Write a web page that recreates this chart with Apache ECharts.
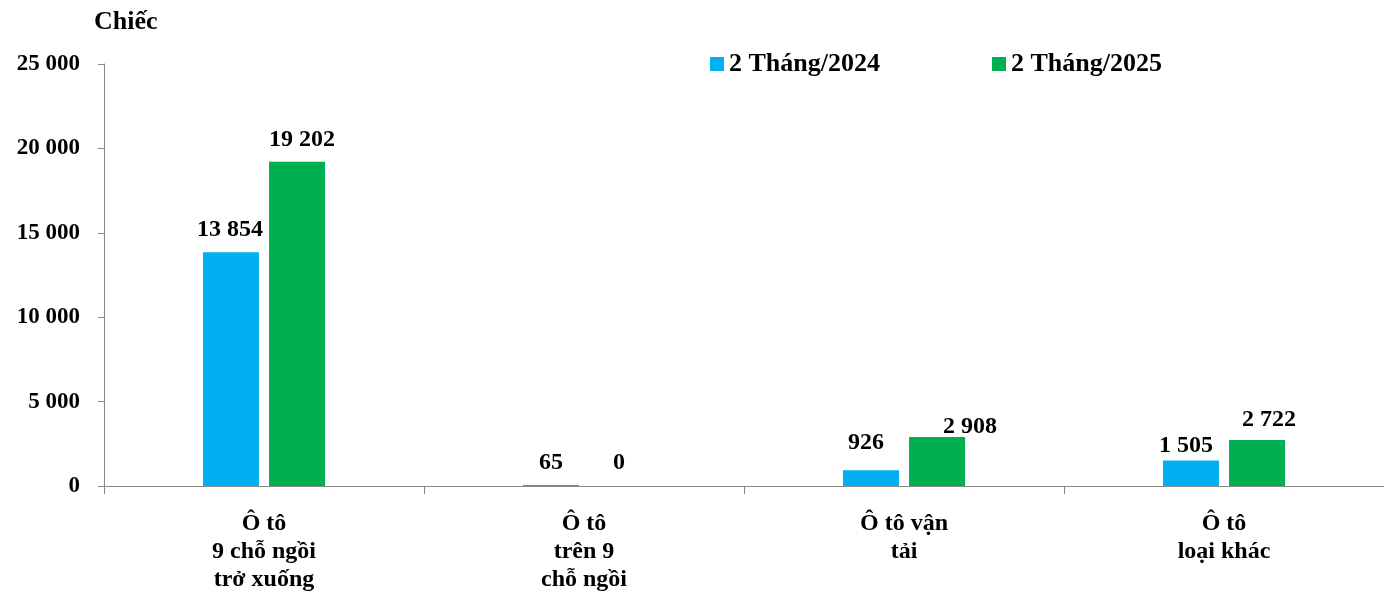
<!DOCTYPE html>
<html><head><meta charset="utf-8">
<script src="https://cdn.jsdelivr.net/npm/echarts@6/dist/echarts.min.js"></script>
<style>html,body{margin:0;padding:0;background:#fff}#c{width:1384px;height:607px}</style>
</head><body><div id="c"></div>
<script>
const categories = ["Ô tô\n9 chỗ ngồi\ntrở xuống", "Ô tô\ntrên 9\nchỗ ngồi", "Ô tô vận\ntải", "Ô tô\nloại khác"];
const seriesNames = ["2 Tháng/2024", "2 Tháng/2025"];
const values2024 = [13854, 65, 926, 1505];
const values2025 = [19202, 0, 2908, 2722];
const yTicks = [0, 5000, 10000, 15000, 20000, 25000];

// label nudges (style only)
const offs2024 = [[-1,-5],[0,-5],[-5,-11],[-5,2]];
const offs2025 = [[5,-5],[2,-6],[33,7],[12,-3]];

const FONT = '"Liberation Serif", "Times New Roman", serif';
const fmt = v => String(v).replace(/\B(?=(\d{3})+(?!\d))/g, ' ');

function mk(vals, offs) {
  return vals.map((v, i) => ({ value: v, label: { offset: offs[i] } }));
}
const chart = echarts.init(document.getElementById('c'), null, {renderer: 'canvas'});
chart.setOption({
  animation: false,
  textStyle: { fontFamily: FONT },
  title: { text: 'Chiếc', left: 89, top: 4, textStyle: { fontFamily: FONT, fontWeight: 'bold', fontSize: 26, color: '#000' } },
  legend: {
    left: 705, top: 46, itemWidth: 14, itemHeight: 14, itemGap: 112,
    icon: 'rect',
    textStyle: { fontFamily: FONT, fontWeight: 'bold', fontSize: 26, color: '#000' },
    data: seriesNames
  },
  grid: { left: 104, right: 0, top: 64, bottom: 121, containLabel: false },
  xAxis: {
    type: 'category', data: categories,
    axisLine: { lineStyle: { color: '#888', width: 1 } },
    axisTick: { show: true, length: 8, lineStyle: { color: '#888' } },
    axisLabel: { color: '#000', fontFamily: FONT, fontWeight: 'bold', fontSize: 24, lineHeight: 28, margin: 24, interval: 0 }
  },
  yAxis: {
    type: 'value', min: yTicks[0], max: yTicks[yTicks.length-1], interval: 5000,
    axisLine: { show: true, lineStyle: { color: '#888', width: 1 } },
    axisTick: { show: true, length: 6, lineStyle: { color: '#888' } },
    splitLine: { show: false },
    axisLabel: { color: '#000', fontFamily: FONT, fontWeight: 'bold', fontSize: 23, margin: 24, formatter: fmt }
  },
  series: [
    { name: seriesNames[0], type: 'bar', barWidth: 56, barGap: '18%', itemStyle: { color: '#00B0F0' },
      data: mk(values2024, offs2024),
      label: { show: true, position: 'top', distance: 5, color: '#000', fontFamily: FONT, fontWeight: 'bold', fontSize: 24, formatter: p => fmt(p.value) } },
    { name: seriesNames[1], type: 'bar', barWidth: 56, itemStyle: { color: '#00B050' },
      data: mk(values2025, offs2025),
      label: { show: true, position: 'top', distance: 5, color: '#000', fontFamily: FONT, fontWeight: 'bold', fontSize: 24, formatter: p => fmt(p.value) } }
  ]
});
</script></body></html>
